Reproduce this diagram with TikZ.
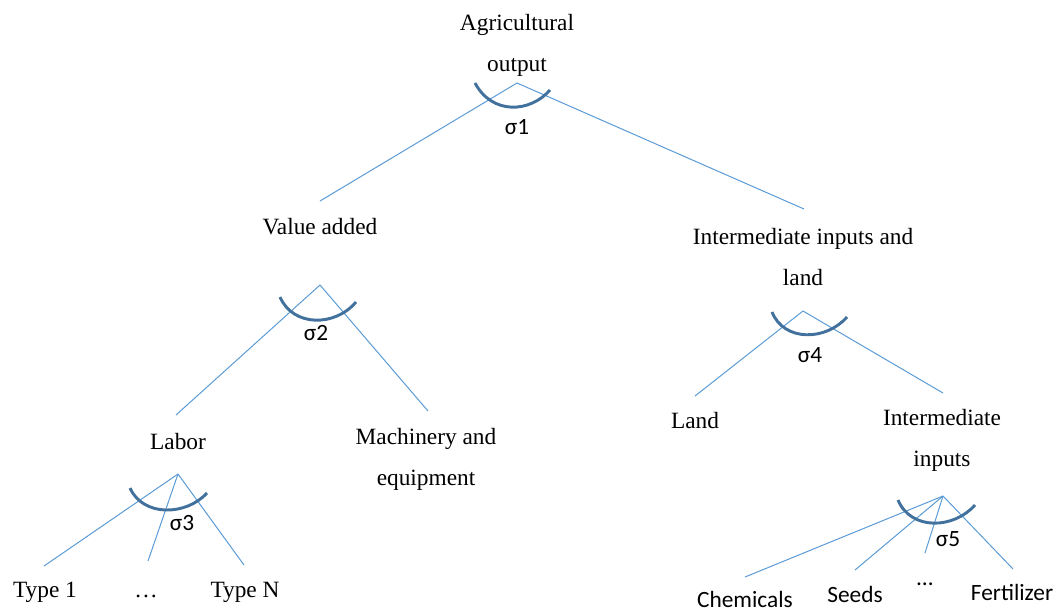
\documentclass[tikz,border=0pt]{standalone}
\usepackage{fontspec}
\setmainfont{Liberation Serif}
\newfontfamily\calibri{Carlito}
\usepackage{tikz}
\usetikzlibrary{positioning}
\definecolor{branchblue}{HTML}{5B9BD5}
\definecolor{arcblue}{HTML}{41719C}
\tikzset{
  label/.style={font=\fontsize{17.5}{30.75}\selectfont, align=center, inner sep=0pt},
  sflabel/.style={font=\calibri\fontsize{17.5}{21}\selectfont, inner sep=0pt},
  branch/.style={branchblue, line width=0.75pt},
  sigmaarc/.style={arcblue, line width=2.2pt}
}
\begin{document}
\begin{tikzpicture}[x=0.75pt, y=-0.75pt]
\useasboundingbox (0,0) rectangle (1057,612);

% Top level
\node[label] (output) at (517,45) {Agricultural\\output};
\coordinate (a1) at (517,83);
\coordinate (e1l) at (320,201);
\coordinate (e1r) at (804,209);
\draw[branch] (e1l) -- (a1) -- (e1r);
\draw[sigmaarc] (475,83) .. controls (492,115) and (530,113) .. (550,90);
\node[sflabel] (s1) at (517,127) {σ1};

% Value added
\node[label, anchor=base] (valadd) at (320,234) {Value added};
\coordinate (a2) at (320,285);
\coordinate (e2l) at (176,415);
\coordinate (e2r) at (428,411);
\draw[branch] (e2l) -- (a2) -- (e2r);
\draw[sigmaarc] (280,297) .. controls (293,327) and (335,327) .. (356,302);
\node[sflabel] (s2) at (316,333) {σ2};

% Intermediate inputs and land
\node[label] (interland) at (803,257) {Intermediate inputs and\\land};
\coordinate (a4) at (803,311);
\coordinate (e4l) at (695,396);
\coordinate (e4r) at (943,393);
\draw[branch] (e4l) -- (a4) -- (e4r);
\draw[sigmaarc] (772,312) .. controls (784,342) and (826,341) .. (847,317);
\node[sflabel] (s4) at (810,355) {σ4};

% Second level
\node[label, anchor=base] (labor) at (178,449) {Labor};
\node[label] (machinery) at (426,459) {Machinery and\\equipment};
\node[label, anchor=base] (land) at (695,428) {Land};
\node[label] (interinp) at (942,440) {Intermediate\\inputs};

% Labor types
\coordinate (a3) at (178,474);
\foreach \n/\x/\y in {1/44/566, 2/148/561, 3/244/565} {
    \coordinate (e3\n) at (\x,\y);
    \draw[branch] (a3) -- (e3\n);
}
\draw[sigmaarc] (130,488) .. controls (143,517) and (186,516) .. (207,493);
\node[sflabel] (s3) at (182,523) {σ3};
\node[label, anchor=base] (type1) at (45,597) {Type 1};
\node[label, anchor=base] (typedots) at (146,597) {\dots};
\node[label, anchor=base] (typeN) at (245,597) {Type N};

% Intermediate input types
\coordinate (a5) at (943,496);
\foreach \n/\x/\y in {1/745/577, 2/855/570, 3/925/553, 4/1013/569} {
    \coordinate (e5\n) at (\x,\y);
    \draw[branch] (a5) -- (e5\n);
}
\draw[sigmaarc] (898,500) .. controls (911,531) and (954,529) .. (975,505);
\node[sflabel] (s5) at (948,539) {σ5};
\node[sflabel, anchor=base] (chem) at (745,607) {Chemicals};
\node[sflabel, anchor=base] (seeds) at (855,602) {Seeds};
\node[sflabel, anchor=base] (chemdots) at (925,585) {…};
\node[sflabel, anchor=base] (fert) at (1012,600) {Fertilizer};

\end{tikzpicture}
\end{document}
